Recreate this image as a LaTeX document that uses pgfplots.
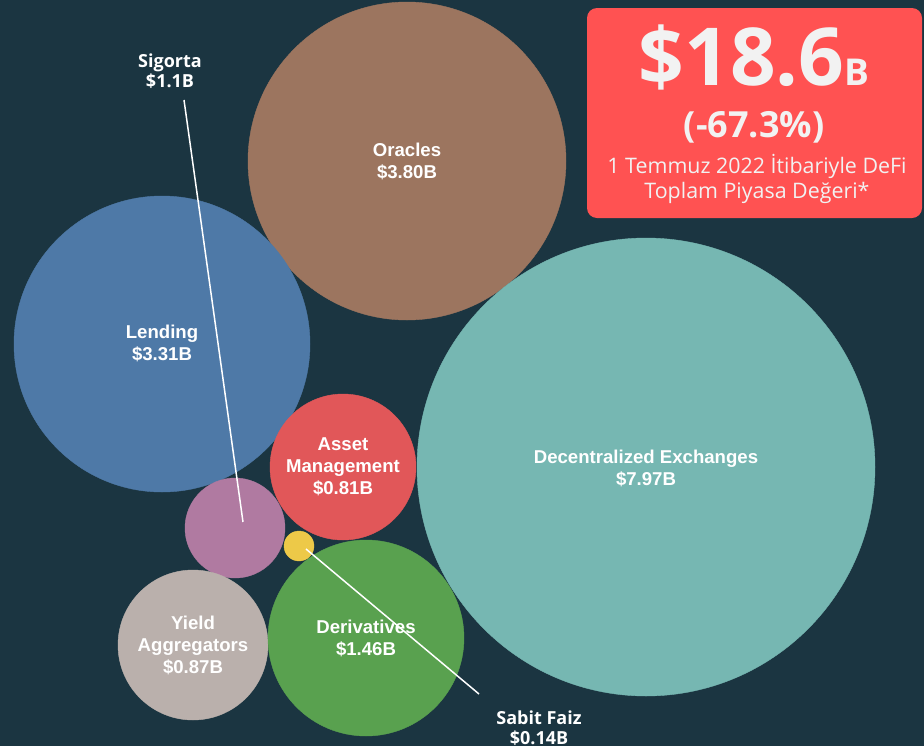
\documentclass[border=0pt]{standalone}
\usepackage{pgfplots}
\pgfplotsset{compat=1.18}
\usepackage{fontspec}
\setmainfont{Open Sans}
\newfontfamily\lib{Liberation Sans}
\definecolor{bgnavy}{HTML}{1B3541}
\definecolor{boxred}{HTML}{FF5252}
\definecolor{tbblue}{HTML}{4E79A7}
\definecolor{tbbrown}{HTML}{9C755F}
\definecolor{tbteal}{HTML}{76B7B2}
\definecolor{tbred}{HTML}{E15759}
\definecolor{tbgreen}{HTML}{59A14F}
\definecolor{tbpurple}{HTML}{B07AA1}
\definecolor{tbyellow}{HTML}{EDC948}
\definecolor{tbgray}{HTML}{BAB0AC}
\definecolor{offwhite}{HTML}{F2F2F2}
\tikzset{
  lbl/.style={font=\lib\bfseries\fontsize{18.6}{22}\selectfont, text=white, align=center},
  callout/.style={font=\bfseries\fontsize{18}{20}\selectfont, text=white, align=center},
}
\pgfplotsset{
  bubble/.style 2 args={only marks, mark=*, mark size=#2pt,
    mark options={draw=none, fill=#1}, color=#1},
}

\begin{document}
\begin{tikzpicture}
\begin{axis}[
  width=924pt, height=746pt, scale only axis,
  xmin=0, xmax=924, ymin=0, ymax=746, y dir=reverse,
  axis line style={draw=none}, ticks=none,
  axis background/.style={fill=bgnavy},
  clip=false,
]
% bubbles: centre (x,y) in pixels, radius as mark size
\addplot[bubble={tbbrown}{159}] coordinates {(407,161)};
\addplot[bubble={tbblue}{148}] coordinates {(162,344)};
\addplot[bubble={tbteal}{229}] coordinates {(646,467)};
\addplot[bubble={tbred}{73}] coordinates {(343,467)};
\addplot[bubble={tbpurple}{50}] coordinates {(235,528)};
\addplot[bubble={tbgray}{75}] coordinates {(193,645)};
\addplot[bubble={tbgreen}{98}] coordinates {(366,638)};
\addplot[bubble={tbyellow}{15}] coordinates {(299,546)};

% anchor points for the annotations drawn on top after the axis
\coordinate (sgA) at (axis cs:184,100);
\coordinate (sgB) at (axis cs:243,522);
\coordinate (sfA) at (axis cs:306,549);
\coordinate (sfB) at (axis cs:479,694);
\coordinate (lOr) at (axis cs:407,161);
\coordinate (lLe) at (axis cs:162,343);
\coordinate (lDe) at (axis cs:646,468);
\coordinate (lAs) at (axis cs:343,467);
\coordinate (lDv) at (axis cs:366,638);
\coordinate (lYi) at (axis cs:193,645);
\coordinate (lSg) at (axis cs:170,71);
\coordinate (lSf) at (axis cs:539,728);

% summary box
\fill[boxred, rounded corners=10pt] (axis cs:587,8) rectangle (axis cs:922,218);
\node[text=offwhite, font=\bfseries\fontsize{80}{80}\selectfont, anchor=base] at (axis cs:754,85) {\$18.6\fontsize{37}{37}\selectfont B};
\node[text=offwhite, font=\bfseries\fontsize{36}{36}\selectfont, anchor=base] at (axis cs:754,137) {(-67.3\%)};
\node[text=offwhite, font=\fontsize{21.4}{25}\selectfont, align=center] at (axis cs:757,179) {1 Temmuz 2022 İtibariyle DeFi\\Toplam Piyasa Değeri*};
\end{axis}

% leader lines
\draw[white, line width=1.5pt] (sgA) -- (sgB);
\draw[white, line width=1.5pt] (sfA) -- (sfB);

% bubble labels
\node[lbl] at (lOr) {Oracles\\\$3.80B};
\node[lbl] at (lLe) {Lending\\\$3.31B};
\node[lbl] at (lDe) {Decentralized Exchanges\\\$7.97B};
\node[lbl] at (lAs) {Asset\\Management\\\$0.81B};
\node[lbl] at (lDv) {Derivatives\\\$1.46B};
\node[lbl] at (lYi) {Yield\\Aggregators\\\$0.87B};
\node[callout] at (lSg) {Sigorta\\\$1.1B};
\node[callout] at (lSf) {Sabit Faiz\\\$0.14B};
\end{tikzpicture}
\end{document}
